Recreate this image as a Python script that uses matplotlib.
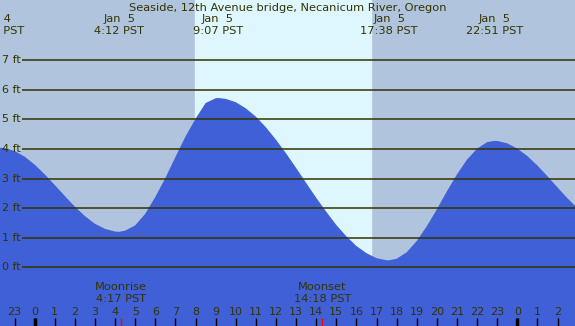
import matplotlib

matplotlib.use("Agg")
import matplotlib.pyplot as plt

# Tide height (ft), hours relative to Jan 5 00:00 PST.
hours = [
    -2, -1.5, -1, -0.5, 0, 0.5, 1, 1.5, 2, 2.5, 3, 3.5, 4, 4.2,
    4.5, 5, 5.5, 6, 6.5, 7, 7.5, 8, 8.5, 9, 9.12,
    9.5, 10, 10.5, 11, 11.5, 12, 12.5, 13, 13.5, 14, 14.5, 15, 15.5,
    16, 16.5, 17, 17.5, 17.63,
    18, 18.5, 19, 19.5, 20, 20.5, 21, 21.5, 22, 22.5, 22.85,
    23, 23.5, 24, 24.5, 25, 25.5, 26, 26.5, 27,
]
tide_ft = [
    4.05, 4.03, 3.93, 3.74, 3.47, 3.14, 2.78, 2.41, 2.05, 1.73, 1.47, 1.30, 1.21, 1.20,
    1.24, 1.42, 1.81, 2.38, 3.02, 3.73, 4.42, 5.02, 5.55, 5.71, 5.72,
    5.69, 5.58, 5.37, 5.09, 4.73, 4.31, 3.85, 3.36, 2.85, 2.35, 1.88, 1.43, 1.05,
    0.72, 0.48, 0.31, 0.24, 0.24,
    0.29, 0.51, 0.89, 1.39, 1.96, 2.57, 3.14, 3.64, 4.01, 4.23, 4.27,
    4.27, 4.19, 4.01, 3.76, 3.44, 3.08, 2.70, 2.33, 2.00,
]

# High / low tide labels
extreme_hours = [-1.95, 4.2, 9.12, 17.63, 22.85]
extreme_dates = ["Jan  4", "Jan  5", "Jan  5", "Jan  5", "Jan  5"]
extreme_times = ["22:03 PST", "4:12 PST", "9:07 PST", "17:38 PST", "22:51 PST"]

# Moon events
moon_hours = [4.283, 14.3]
moon_names = ["Moonrise", "Moonset"]
moon_times = ["4:17 PST", "14:18 PST"]

sunrise = 7.97
sunset = 16.72

levels_ft = [0, 1, 2, 3, 4, 5, 6, 7]
tick_hours = list(range(-2, 27))
midnights = [0, 24]

title = "Seaside, 12th Avenue bridge, Necanicum River, Oregon"

night_color = "#B0C4DE"
day_color = "#DEF7FF"
water_color = "#4060D8"
text_color = "#333300"

fig = plt.figure(figsize=(5.75, 3.26), dpi=100)
fig.patch.set_facecolor(night_color)
ax = fig.add_axes([0, 0, 1, 1])
ax.set_axis_off()
ax.set_xlim(-1.725, 26.87)
ax.set_ylim(-1.98, 9.03)

# Background day / night
ax.axvspan(-5, 30, color=night_color, zorder=0)
ax.axvspan(sunrise, sunset, color=day_color, zorder=1)

# Water
ax.fill_between(hours, tide_ft, -5, color=water_color, linewidth=0, zorder=2)

# Height lines with labels
ax.hlines(levels_ft, -0.63, 30, color=text_color, linewidth=1.1, zorder=3)
for lv in levels_ft:
    ax.text(0.004, lv, f"{lv} ft", transform=ax.get_yaxis_transform(),
            ha="left", va="center", fontsize=8, color=text_color, zorder=4)

ax.text(0.5, 0.976, title, transform=ax.transAxes, ha="center", va="center",
        fontsize=8.2, color=text_color, zorder=4)

tr = ax.get_xaxis_transform()
for h, d, t in zip(extreme_hours, extreme_dates, extreme_times):
    ax.text(h, 0.942, d, transform=tr, ha="center", va="center",
            fontsize=8.2, color=text_color, zorder=4, clip_on=False)
    ax.text(h, 0.904, t, transform=tr, ha="center", va="center",
            fontsize=8.2, color=text_color, zorder=4, clip_on=False)

for h, n, t in zip(moon_hours, moon_names, moon_times):
    ax.text(h, 0.119, n, transform=tr, ha="center", va="center",
            fontsize=8.2, color=text_color, zorder=4)
    ax.text(h, 0.082, t, transform=tr, ha="center", va="center",
            fontsize=8.2, color=text_color, zorder=4)

# Hour ticks along the bottom
for h in tick_hours:
    ax.text(h, 0.044, str(h % 24), transform=tr, ha="center", va="center",
            fontsize=8, color=text_color, zorder=4)
ax.vlines(tick_hours, 0, 0.025, transform=tr, color="black", linewidth=1, zorder=4)
ax.vlines(midnights, 0, 0.025, transform=tr, color="black", linewidth=2.5, zorder=4)
ax.vlines(moon_hours, 0, 0.025, transform=tr, color="red", linewidth=1, zorder=5)

fig.savefig("out.png", dpi=100, facecolor=night_color)
